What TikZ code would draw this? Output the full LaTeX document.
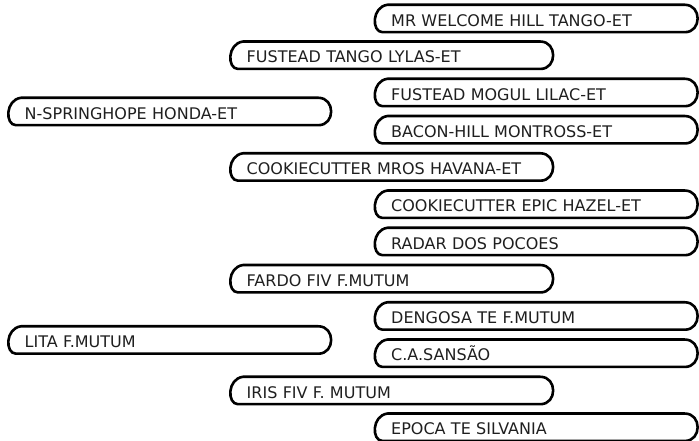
\documentclass[tikz,border=0pt]{standalone}
\usepackage{fontspec}
\setmainfont{DejaVu Sans}
\newcommand\horseoutline[1]{%
  \draw[boxline] ([xshift=14pt]#1.north west) -- ([xshift=-14pt]#1.north east)
    .. controls ([xshift=3pt]#1.north east) and ([xshift=3pt]#1.south east) .. ([xshift=-14pt]#1.south east)
    -- ([xshift=9pt]#1.south west)
    .. controls ([xshift=-2pt]#1.south west) and ([xshift=-2pt,yshift=-2pt]#1.north west) .. ([xshift=14pt]#1.north west) -- cycle;}
\begin{document}
\begin{tikzpicture}[x=1pt,y=1pt,
  horse/.style={anchor=west, inner xsep=17.5pt, inner ysep=0pt, text width=290pt,
    minimum height=27pt, align=left, font=\fontsize{16}{18}\selectfont, text=black!88,
    text height=15.5pt, text depth=0pt},
  boxline/.style={line width=2.6pt, draw=black, line join=round}]
\useasboundingbox (0,0) rectangle (699,441);
% generation 1
\node[horse] (s) at (7, 329.5) {N-SPRINGHOPE HONDA-ET};
\node[horse] (d) at (7, 101) {LITA F.MUTUM};
% generation 2
\node[horse] (ss) at (229, 385.75) {FUSTEAD TANGO LYLAS-ET};
\node[horse] (sd) at (229, 274) {COOKIECUTTER MROS HAVANA-ET};
\node[horse] (ds) at (229, 162.25) {FARDO FIV F.MUTUM};
\node[horse] (dd) at (229, 50.5) {IRIS FIV F. MUTUM};
% generation 3
\node[horse] (sss) at (373.5, 422.5) {MR WELCOME HILL TANGO-ET};
\node[horse] (ssd) at (373.5, 348.5) {FUSTEAD MOGUL LILAC-ET};
\node[horse] (sds) at (373.5, 311.25) {BACON-HILL MONTROSS-ET};
\node[horse] (sdd) at (373.5, 236.75) {COOKIECUTTER EPIC HAZEL-ET};
\node[horse] (dss) at (373.5, 199.5) {RADAR DOS POCOES};
\node[horse] (dsd) at (373.5, 125) {DENGOSA TE F.MUTUM};
\node[horse] (dds) at (373.5, 87.75) {C.A.SANSÃO};
\node[horse] (ddd) at (373.5, 13.75) {EPOCA TE SILVANIA};
\foreach \n in {s,d,ss,sd,ds,dd,sss,ssd,sds,sdd,dss,dsd,dds,ddd} {\horseoutline{\n}}
\end{tikzpicture}
\end{document}
